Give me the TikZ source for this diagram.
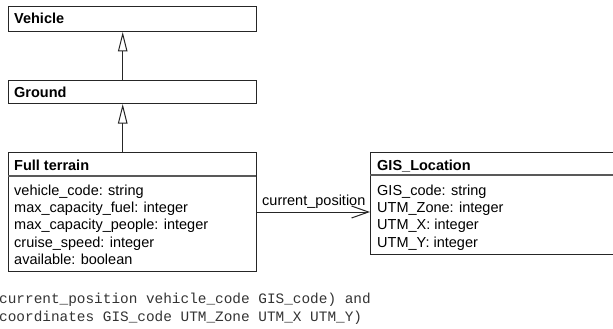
\documentclass[tikz,border=0pt]{standalone}
\usepackage{fontspec}
\setmainfont{Liberation Sans}
\newfontfamily\monofont{Liberation Mono}
\usetikzlibrary{arrows.meta}
\begin{document}
\begin{tikzpicture}[x=1pt,y=-1pt,
  classbox/.style={draw=black!85, line width=1pt, anchor=north west, inner sep=0pt},
  cname/.style={anchor=base west, inner sep=0pt, font=\fontsize{14.5}{17.4}\selectfont\bfseries},
  attrs/.style={anchor=base west, inner sep=0pt, font=\fontsize{14.5}{17.4}\selectfont},
  inherit/.style={draw=black!85, line width=1pt, -{Triangle[open, length=19.5pt, width=9.5pt, line width=1pt]}},
  assoc/.style={draw=black!85, line width=1pt, -{Straight Barb[length=17pt, width=12pt, line width=1pt]}},
  divider/.style={draw=black!65, line width=1.2pt},
  monotext/.style={anchor=base west, inner sep=0pt, text=black!80, font=\monofont\fontsize{14.4}{18}\selectfont}
]
\useasboundingbox (0,0) rectangle (613,329);
% Vehicle
\node[classbox, minimum width=248pt, minimum height=25pt] (vehicle) at (8,6) {};
\node[cname] (vehiclename) at (14,24) {Vehicle};
% Ground
\node[classbox, minimum width=248pt, minimum height=23pt] (ground) at (8,80) {};
\node[cname] (groundname) at (14,97) {Ground};
% Full terrain
\node[classbox, minimum width=248pt, minimum height=119pt] (full) at (8,152) {};
\node[cname] (fullname) at (14,170) {Full terrain};
\draw[divider] (8,176) coordinate (fdl) -- (256,176) coordinate (fdr);
\foreach \t [count=\i] in {vehicle\_code: string, max\_capacity\_fuel: integer, max\_capacity\_people: integer, cruise\_speed: integer, available: boolean}
  \node[attrs] (fa\i) at (14,{195+17.4*(\i-1)}) {\t};
% GIS_Location
\node[classbox, minimum width=250pt, minimum height=102pt] (gis) at (370,152) {};
\node[cname] (gisname) at (377,170) {GIS\_Location};
\draw[divider] (370,175) coordinate (gdl) -- (620,175) coordinate (gdr);
\foreach \t [count=\i] in {GIS\_code: string, UTM\_Zone: integer, UTM\_X: integer, UTM\_Y: integer}
  \node[attrs] (ga\i) at (377,{195+17.4*(\i-1)}) {\t};
% inheritance
\draw[inherit] (ground.north -| 122.7,0) -- (vehicle.south -| 122.7,0);
\draw[inherit] (full.north -| 122.7,0) -- (ground.south -| 122.7,0);
% association
\draw[assoc] (full.east |- 0,212) -- (gis.west |- 0,212);
\node[attrs] (assoclabel) at (262,205) {current\_position};
% bottom text
\node[monotext] (code1) at (-1,303) {current\_position vehicle\_code GIS\_code) and};
\node[monotext] (code2) at (-1,321) {coordinates GIS\_code UTM\_Zone UTM\_X UTM\_Y)};
\end{tikzpicture}
\end{document}
